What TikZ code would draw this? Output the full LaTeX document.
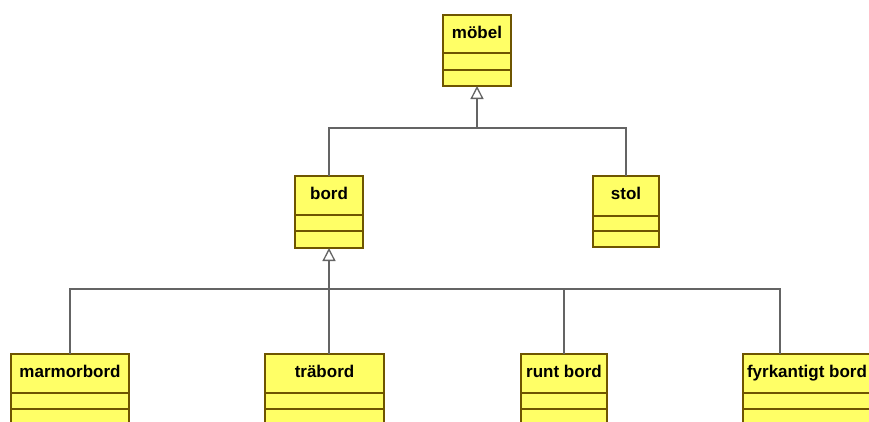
\documentclass[tikz,border=0pt]{standalone}
\usepackage{fontspec}
\setmainfont{Liberation Sans}
\usetikzlibrary{arrows.meta,calc}
\definecolor{classfill}{RGB}{255,255,102}
\definecolor{classline}{RGB}{110,85,0}
\definecolor{linkgray}{RGB}{100,100,100}
\tikzset{
  umlclass/.style={draw=classline, fill=classfill, line width=1.2pt, anchor=north west, inner sep=0pt, outer sep=0pt},
  classname/.style={font=\fontsize{17}{17}\selectfont\bfseries, anchor=base, inner sep=0pt},
  divider/.style={draw=classline, line width=1.2pt},
  inherit/.style={draw=linkgray, line width=1.5pt},
  gentip/.style={-{Triangle[open, width=13pt, length=13pt, fill=white, line width=1.3pt]}},
}
% #1 name, #2 x, #3 y, #4 width, #5 height, #6/#7 divider offsets, #8 class name
\newcommand\umlbox[8]{%
  \node[umlclass, minimum width=#4pt, minimum height=#5pt] (#1) at (#2,#3) {};
  \draw[divider] ($(#1.north west)+(0,#6)$) -- ($(#1.north east)+(0,#6)$);
  \draw[divider] ($(#1.north west)+(0,#7)$) -- ($(#1.north east)+(0,#7)$);
  \node[classname] (#1-name) at ($(#1.north)+(0,23)$) {#8};
}
\begin{document}
\begin{tikzpicture}[x=1pt, y=-1pt]
  \useasboundingbox (0,0) rectangle (869,421);
  \clip (0,0) rectangle (869,421);
  \fill[white] (0,0) rectangle (869,421);

  % class boxes
  \umlbox{mobel}{443}{15}{68}{71}{38}{55}{möbel}
  \umlbox{bord}{295}{176}{68}{72}{39}{55}{bord}
  \umlbox{stol}{593}{176}{66}{71}{40}{55}{stol}
  \umlbox{marmorbord}{11}{354}{118}{90}{39}{55}{marmorbord}
  \umlbox{traebord}{265}{354}{119}{90}{39}{55}{träbord}
  \umlbox{runtbord}{521}{354}{86}{90}{39}{55}{runt bord}
  \umlbox{fyrk}{743}{354}{128}{90}{39}{55}{fyrkantigt bord}

  % junction points of the generalisation trees
  \coordinate (hubA) at ($(mobel.south)+(0,42)$);
  \coordinate (hubB) at ($(bord.south)+(0,41)$);
  \coordinate (fyrk-port) at ($(fyrk.north west)+(37,0)$);

  % möbel <- bord, stol
  \draw[inherit, gentip] (bord.north) |- (hubA) -- (mobel.south);
  \draw[inherit] (stol.north) |- (hubA);

  % bord <- marmorbord, träbord, runt bord, fyrkantigt bord
  \draw[inherit, gentip] (traebord.north -| hubB) -- (bord.south);
  \draw[inherit] (marmorbord.north) |- (hubB);
  \draw[inherit] (runtbord.north) |- (hubB);
  \draw[inherit] (fyrk-port) |- (hubB);
\end{tikzpicture}
\end{document}
